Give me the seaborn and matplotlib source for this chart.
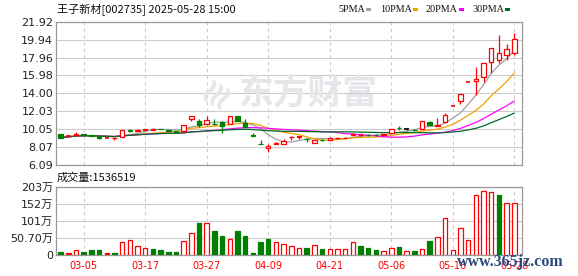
import numpy as np
import pandas as pd
import matplotlib
matplotlib.use("Agg")
import matplotlib.pyplot as plt
from matplotlib.patches import Rectangle
import seaborn as sns

# ---------------- data ----------------
dates = ["02-28",
         "03-03", "03-04", "03-05", "03-06", "03-07", "03-10", "03-11", "03-12", "03-13", "03-14",
         "03-17", "03-18", "03-19", "03-20", "03-21", "03-24", "03-25", "03-26", "03-27", "03-28", "03-31",
         "04-01", "04-02", "04-03", "04-07", "04-08", "04-09", "04-10", "04-11", "04-14", "04-15", "04-16",
         "04-17", "04-18", "04-21", "04-22", "04-23", "04-24", "04-25", "04-28", "04-29", "04-30",
         "05-06", "05-07", "05-08", "05-09", "05-12", "05-13", "05-14", "05-15", "05-16",
         "05-19", "05-20", "05-21", "05-22", "05-23", "05-26", "05-27", "05-28"]

open_ = [9.50, 9.28, 9.35, 9.46, 9.40, 9.25, 9.10, 9.02, 9.22, 9.92,
         9.90, 9.97, 10.00, 10.10, 9.92, 9.80, 9.80, 11.15, 10.95, 10.58,
         10.62, 10.85, 10.62, 11.45, 10.78, 9.42, 8.40, 8.00, 8.42, 8.42,
         9.18, 9.20, 9.00, 8.56, 8.90, 8.86, 9.05, 9.08, 9.40, 9.40,
         9.45, 9.42, 9.40, 9.58, 10.20, 10.10, 10.00, 10.10, 10.85, 10.45,
         10.85, 12.65, 13.12, 15.31, 15.40, 15.77, 17.42, 17.68, 18.23, 18.50]
high = [9.52, 9.35, 9.70, 9.50, 9.45, 9.28, 9.14, 9.12, 9.98, 10.05,
        10.05, 10.12, 10.15, 10.12, 9.95, 9.82, 10.52, 11.48, 11.20, 11.50,
        11.15, 11.00, 11.55, 11.50, 11.15, 9.65, 8.80, 8.40, 8.60, 8.93,
        9.25, 9.30, 9.10, 8.90, 9.00, 9.15, 9.15, 9.15, 9.60, 9.60,
        9.55, 9.50, 9.52, 10.08, 10.40, 10.20, 10.05, 11.00, 10.90, 11.24,
        11.80, 12.65, 13.92, 15.31, 16.87, 17.35, 19.00, 20.44, 19.45, 20.70]
low = [9.08, 9.25, 9.33, 9.38, 9.30, 8.98, 9.03, 8.90, 9.20, 9.75,
       9.88, 9.95, 9.98, 10.02, 9.82, 9.65, 9.78, 11.00, 10.25, 10.55,
       10.50, 9.60, 10.60, 10.90, 10.30, 9.30, 8.37, 7.50, 8.40, 8.40,
       8.80, 8.95, 8.60, 8.50, 8.75, 8.85, 9.00, 9.02, 9.35, 9.30,
       9.25, 9.30, 9.35, 9.55, 9.96, 10.00, 9.88, 10.05, 10.50, 10.40,
       10.80, 12.65, 12.82, 15.31, 13.82, 15.25, 16.30, 17.31, 17.70, 18.20]
close = [9.12, 9.28, 9.48, 9.40, 9.33, 9.10, 9.10, 9.08, 9.95, 9.88,
         10.00, 10.06, 10.10, 10.05, 9.85, 9.70, 10.48, 11.45, 10.55, 11.05,
         10.58, 10.45, 11.52, 11.00, 10.33, 9.30, 8.37, 8.20, 8.55, 8.78,
         9.22, 9.24, 8.95, 8.86, 8.86, 9.10, 9.12, 9.12, 9.55, 9.45,
         9.40, 9.38, 9.47, 10.06, 10.15, 10.10, 9.95, 10.98, 10.55, 10.52,
         11.57, 12.65, 13.92, 15.31, 15.60, 17.31, 18.97, 18.42, 18.86, 20.00]
# colour of doji candles (open == close)
doji_colors = {1: "red", 6: "red", 45: "black", 51: "red", 53: "red"}

# volume in 万 (10k)
volume = [9, 6, 14, 9, 15, 15, 6, 6, 38, 44,
          26, 21, 18, 15, 9, 9, 41, 65, 96, 96,
          72, 55, 48, 72, 55, 6, 40, 48, 38, 33,
          26, 20, 21, 29, 18, 17, 17, 17, 38, 27,
          21, 15, 11, 20, 24, 11, 12, 17, 42, 53,
          110, 14, 80, 44, 179, 191, 188, 177, 154, 153.65]
# R = red hollow, F = red filled, G = green filled
vol_kind = list("GFRGGGFGRR" "RRGGGGRRGR" "GGRGGGGGRR" "RRGRGRRRRG"
                "GGRRGRGRGR" "RRRRRRRGRR")

price_ticks = [6.09, 8.07, 10.05, 12.03, 14.00, 15.98, 17.96, 19.94, 21.92]
price_labels = ["6.09", "8.07", "10.05", "12.03", "14.00", "15.98", "17.96", "19.94", "21.92"]
vol_ticks = [0, 50.70, 101, 152, 203]
vol_labels = ["0", "50.70万", "101万", "152万", "203万"]
ma_periods = [5, 10, 20, 30]
ma_colors = ["#a0a0a0", "#f0a000", "#ff00ff", "#006a2a"]
ma_names = ["5PMA", "10PMA", "20PMA", "30PMA"]
title = "王子新材[002735] 2025-05-28 15:00"
vol_title = "成交量:1536519"

# ---------------- figure ----------------
sns.set_theme(style="white")
plt.rcParams["font.family"] = ["DejaVu Sans", "Noto Sans CJK SC"]

W, H = 578, 276
fig = plt.figure(figsize=(W / 100, H / 100), dpi=100)
fig.patch.set_facecolor("white")

L, R = 56, 522
ax1 = fig.add_axes([L / W, 1 - 165 / H, (R - L) / W, (165 - 21.7) / H])
ax2 = fig.add_axes([L / W, 1 - 255 / H, (R - L) / W, (255 - 186.7) / H])

n = len(dates)
idx = np.arange(n)
tick_idx = list(range(3, n, 8))

RED = "#ff0000"
GREEN = "#008000"
bw = 0.58

df = pd.DataFrame({"i": idx, "open": open_, "high": high, "low": low, "close": close})

# watermark
fig.text(308 / W, 1 - 93 / H, "东方财富", ha="center", va="center",
         fontsize=25, fontweight="bold", color="#e6e6ea", family=["Noto Sans CJK SC"], zorder=0)
fig.text(217 / W, 1 - 93 / H, "≋", ha="center", va="center", rotation=60,
         fontsize=26, fontweight="bold", color="#e6e6ea", family=["DejaVu Sans"], zorder=0)

# moving averages
for p, c in zip(ma_periods, ma_colors):
    ma = df["close"].rolling(p, min_periods=1).mean()
    sns.lineplot(x=df["i"], y=ma, ax=ax1, color=c, lw=0.9, zorder=2)

# candles
for i in idx:
    o, h, l, c = open_[i], high[i], low[i], close[i]
    if c > o:
        col, face = RED, "white"
    elif c < o:
        col, face = GREEN, GREEN
    else:
        col = {"red": RED, "black": "black", "green": GREEN}[doji_colors.get(i, "red")]
        face = col
    ax1.vlines(i, l, h, color=col, lw=0.9, zorder=3)
    if c == o:
        ax1.hlines(c, i - bw / 2, i + bw / 2, color=col, lw=1.2, zorder=4)
    else:
        ax1.bar(i, abs(c - o), bottom=min(o, c), width=bw, facecolor=face,
                edgecolor=col, linewidth=0.9, zorder=4)

ax1.patch.set_alpha(0)
ax1.set_xlim(-0.6, n)
ax1.set_ylim(price_ticks[0], price_ticks[-1])
ax1.set_yticks(price_ticks)
ax1.set_yticklabels(price_labels)
ax1.set_xticks(tick_idx)
ax1.set_xticklabels([])
ax1.set_ylabel("")
ax1.set_xlabel("")

# volume
for i in idx:
    k = vol_kind[i]
    if k == "R":
        fc, ec = "white", RED
    elif k == "F":
        fc, ec = RED, RED
    else:
        fc, ec = GREEN, GREEN
    ax2.bar(i, volume[i], width=bw, facecolor=fc, edgecolor=ec, linewidth=0.9, zorder=3)

ax2.set_xlim(-0.6, n)
ax2.set_ylim(0, 203)
ax2.set_yticks(vol_ticks)
ax2.set_yticklabels(vol_labels)
ax2.set_xticks(tick_idx)
ax2.set_xticklabels([dates[i] for i in tick_idx])

for ax in (ax1, ax2):
    ax.grid(axis="y", color="#cccccc", lw=0.8, ls="-", zorder=1)
    ax.grid(axis="x", color="#cccccc", lw=0.8, ls=(0, (3, 3)), zorder=1)
    ax.set_axisbelow(True)
    for s in ax.spines.values():
        s.set_color("#999999")
        s.set_linewidth(0.9)
        s.set_visible(True)
    ax.tick_params(axis="y", length=0, pad=2, labelsize=8, labelcolor="#222222")
    ax.tick_params(axis="x", length=0, pad=4, labelsize=7, labelcolor=RED)

# texts
fig.text(57 / W, 1 - 9.5 / H, title, ha="left", va="center", fontsize=8,
         color="#111111", family=["Noto Sans CJK SC", "DejaVu Sans"])
fig.text(57 / W, 1 - 177.5 / H, vol_title, ha="left", va="center", fontsize=8,
         color="#111111", family=["Noto Sans CJK SC", "DejaVu Sans"])

leg_x = [338, 380, 425, 472]
sq_x = [366, 413, 459, 505]
for name, c, tx, sx in zip(ma_names, ma_colors, leg_x, sq_x):
    fig.text(tx / W, 1 - 9.5 / H, name, ha="left", va="center", fontsize=7.3,
             color="#111111", family=["Liberation Serif"])
    fig.add_artist(Rectangle((sx / W, 1 - 11 / H), 5 / W, 3.5 / H,
                             transform=fig.transFigure, facecolor=c, edgecolor="none"))

fig.text(457 / W, 1 - 262 / H, "www.365jz.com", ha="left", va="center", fontsize=11.5,
         fontweight="bold", color="#2a4a80", family=["Liberation Serif"], zorder=10)

fig.savefig("out.png", dpi=100, facecolor="white")
